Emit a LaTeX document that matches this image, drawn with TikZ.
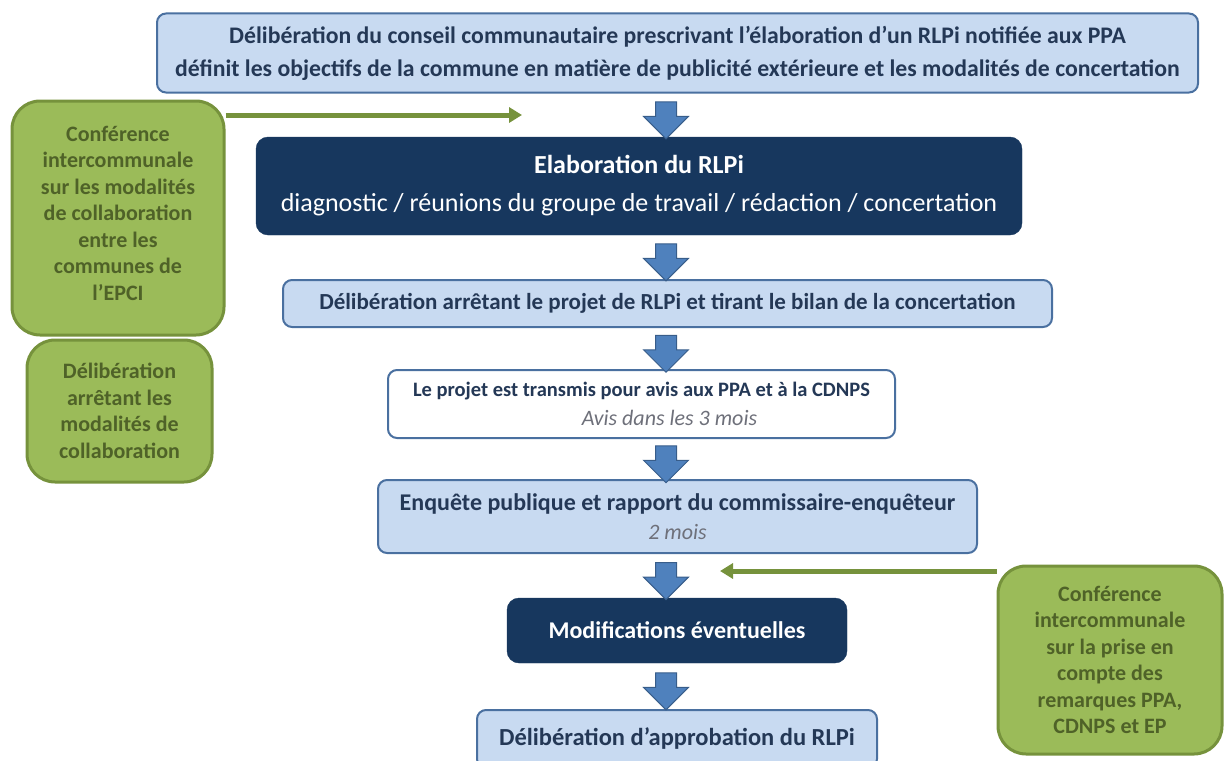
\documentclass[tikz,border=0pt]{standalone}
\usepackage{fontspec}
\setmainfont{Carlito}
\usepackage{xcolor}
\usetikzlibrary{arrows.meta,positioning,shapes.arrows}
\definecolor{boxfill}{RGB}{200,218,241}
\definecolor{boxline}{RGB}{74,112,160}
\definecolor{boxtext}{RGB}{36,56,86}
\definecolor{navy}{RGB}{23,55,94}
\definecolor{greenfill}{RGB}{155,187,89}
\definecolor{greenline}{RGB}{118,146,60}
\definecolor{greentext}{RGB}{79,98,40}
\definecolor{arrowfill}{RGB}{79,129,189}
\definecolor{arrowline}{RGB}{56,93,138}
\definecolor{delay}{RGB}{110,112,122}
\tikzset{%
	lightbox/.style  = {draw=boxline, fill=boxfill, line width=2pt, rounded corners=9pt, text=boxtext, align=center, inner sep=0pt, font=\bfseries\fontsize{22}{33}\selectfont},
	whitebox/.style  = {lightbox, fill=white},
	darkbox/.style   = {draw=navy, fill=navy, rounded corners=12pt, text=white, align=center, inner sep=0pt},
	greenbox/.style  = {draw=greenline, fill=greenfill, line width=3pt, rounded corners=28pt, text=greentext, align=center, inner sep=0pt, font=\bfseries\fontsize{22}{26.5}\selectfont},
	downarrow/.style = {single arrow, shape border rotate=270, fill=arrowfill, draw=arrowline, line width=1pt, inner sep=10pt, single arrow head extend=12pt, minimum height=37pt},
	greenarrow/.style= {draw=greenline, line width=5pt, -{Triangle[length=13pt,width=15pt]}},
}
\newcommand{\delai}[1]{{\mdseries\itshape\color{delay}\fontsize{22}{29}\selectfont #1}}

\begin{document}
\begin{tikzpicture}[x=1pt,y=-1pt]
	\useasboundingbox (0,0) rectangle (1225,760);
	\coordinate (axis) at (666,0);
	
	\node[lightbox, minimum width=1041, minimum height=79, font=\bfseries\fontsize{23.75}{33}\selectfont] (prescr) at (677.5,53) {Délibération du conseil communautaire prescrivant l’élaboration d’un RLPi notifiée aux PPA\\ définit les objectifs de la commune en matière de publicité extérieure et les modalités de concertation};
	\node[darkbox, minimum width=766, minimum height=98, font=\fontsize{26}{38}\selectfont] (elab) at (639,186) {{\bfseries Elaboration du RLPi}\\ diagnostic / réunions du groupe de travail / rédaction / concertation};
	\node[lightbox, minimum width=769, minimum height=47, font=\bfseries\fontsize{23}{29}\selectfont] (arret) at (667.5,303.5) {Délibération arrêtant le projet de RLPi et tirant le bilan de la concertation};
	\node[whitebox, minimum width=507, minimum height=68, font=\bfseries\fontsize{20.5}{29}\selectfont] (transm) at (641.5,404) {Le projet est transmis pour avis aux PPA et à la CDNPS\\ \delai{\hspace{56pt}Avis dans les 3 mois}};
	\node[lightbox, minimum width=599, minimum height=73, font=\bfseries\fontsize{24}{29}\selectfont] (enquete) at (677.5,516.5) {Enquête publique et rapport du commissaire-enquêteur\\ \delai{2 mois}};
	\node[darkbox, minimum width=340, minimum height=65, font=\bfseries\fontsize{24}{29}\selectfont] (modif) at (677,630.5) {Modifications éventuelles};
	\node[lightbox, minimum width=400, minimum height=58, font=\bfseries\fontsize{24.5}{29}\selectfont] (approb) at (677,739) {Délibération d’approbation du RLPi};
	
	\node[greenbox, minimum width=212, minimum height=234] (conf1) at (118,218) {Conférence\\intercommunale\\sur les modalités\\de collaboration\\entre les\\communes de\\l’EPCI\\[-16.5pt]};
	\node[greenbox, minimum width=185, minimum height=142] (modal) at (119.5,411) {Délibération\\arrêtant les\\modalités de\\collaboration};
	\node[greenbox, minimum width=224, minimum height=188] (conf2) at (1110,660) {Conférence\\intercommunale\\sur la prise en\\compte des\\remarques PPA,\\CDNPS et EP};
	
	% fleches entre les etapes
	\path (prescr.south -| axis) -- (elab.north -| axis) node[midway, downarrow] (f1) {};
	\path (elab.south -| axis) -- (arret.north -| axis) node[midway, downarrow] (f2) {};
	\path (arret.south -| axis) -- (transm.north -| axis) node[midway, downarrow] (f3) {};
	\path (transm.south -| axis) -- (enquete.north -| axis) node[midway, downarrow] (f4) {};
	\path (enquete.south -| axis) -- (modif.north -| axis) node[midway, downarrow] (f5) {};
	\path (modif.south -| axis) -- (approb.north -| axis) node[midway, downarrow] (f6) {};
	
	\coordinate (versprojet) at (522,115);
	\coordinate (versmodif) at (720,571);
	\draw[greenarrow] (conf1.east |- versprojet) -- (versprojet);
	\draw[greenarrow] (conf2.west |- versmodif) -- (versmodif);
\end{tikzpicture}
\end{document}
